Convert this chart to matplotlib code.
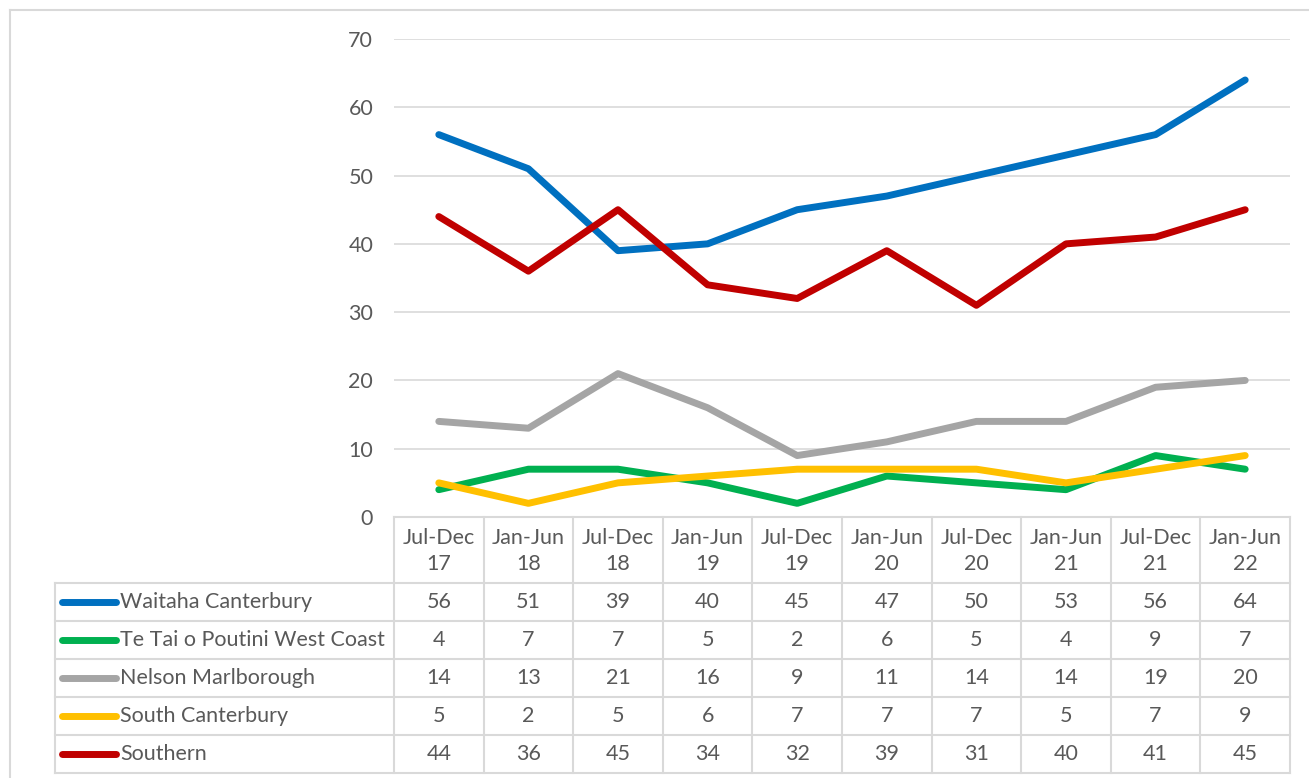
import matplotlib.pyplot as plt
import matplotlib.transforms as mtransforms
from matplotlib.lines import Line2D

periods = ["Jul-Dec\n17", "Jan-Jun\n18", "Jul-Dec\n18", "Jan-Jun\n19", "Jul-Dec\n19",
           "Jan-Jun\n20", "Jul-Dec\n20", "Jan-Jun\n21", "Jul-Dec\n21", "Jan-Jun\n22"]
names = ["Waitaha Canterbury", "Te Tai o Poutini West Coast", "Nelson Marlborough",
         "South Canterbury", "Southern"]
waitaha = [56, 51, 39, 40, 45, 47, 50, 53, 56, 64]
west_coast = [4, 7, 7, 5, 2, 6, 5, 4, 9, 7]
nelson = [14, 13, 21, 16, 9, 11, 14, 14, 19, 20]
south_cant = [5, 2, 5, 6, 7, 7, 7, 5, 7, 9]
southern = [44, 36, 45, 34, 32, 39, 31, 40, 41, 45]
colors = ["#0070C0", "#00B050", "#A5A5A5", "#FFC000", "#C00000"]

series = [waitaha, west_coast, nelson, south_cant, southern]

plt.rcParams['font.family'] = ['Lato', 'DejaVu Sans']
txt = "#595959"
grid = "#D9D9D9"
fs = 15.5

W, H = 1309, 778
fig = plt.figure(figsize=(W / 100, H / 100), dpi=100)

def fy(py):
    return 1 - py / H

ax = fig.add_axes([394 / W, fy(517), (1290 - 394) / W, (517 - 39) / H])
x = list(range(len(periods)))
for vals, c in zip(series, colors):
    ax.plot(x, vals, color=c, lw=5, solid_capstyle='round', solid_joinstyle='round', zorder=3)

ax.set_xlim(-0.5, len(periods) - 0.5)
ax.set_ylim(0, 70)
ax.set_yticks(range(0, 71, 10))
ax.yaxis.grid(True, color=grid, lw=1.2)
ax.set_axisbelow(True)
ax.set_xticks([])
ax.tick_params(axis='y', length=0, labelsize=fs, labelcolor=txt, pad=15)
for s in ax.spines.values():
    s.set_visible(False)

# outer chart frame
fig.add_artist(Line2D([9.5 / W, 9.5 / W], [fy(10), 0], transform=fig.transFigure, color=grid, lw=1.5))
fig.add_artist(Line2D([9.5 / W, 1], [fy(10), fy(10)], transform=fig.transFigure, color=grid, lw=1.5))

# data table below the plot
tr = mtransforms.blended_transform_factory(ax.transData, fig.transFigure)
head_top, head_bot = 517, 583
row_h = 38
tab_left = 55 / W
n = len(periods)
bottom = head_bot + row_h * len(names)

lkw = dict(color=grid, lw=1.5, clip_on=False)
# vertical lines in data columns
for i in range(n + 1):
    fig.add_artist(Line2D([i - 0.5, i - 0.5], [fy(head_top), fy(bottom)], transform=tr, **lkw))
# header top
fig.add_artist(Line2D([-0.5, n - 0.5], [fy(head_top), fy(head_top)], transform=tr, **lkw))
# left edge of the label column
fig.add_artist(Line2D([tab_left, tab_left], [fy(head_bot), fy(bottom)], transform=fig.transFigure, **lkw))
# horizontal row lines
x_left_data = ax.transData.inverted().transform(fig.transFigure.transform((tab_left, 0)))[0]
for r in range(len(names) + 1):
    yy = fy(head_bot + r * row_h)
    fig.add_artist(Line2D([x_left_data, n - 0.5], [yy, yy], transform=tr, **lkw))

for i, p in enumerate(periods):
    fig.text(i, fy((head_top + head_bot) / 2 + 1), p, transform=tr, ha='center', va='center',
             fontsize=fs, color=txt, linespacing=1.4)

for r, (name, vals, c) in enumerate(zip(names, series, colors)):
    yc = fy(head_bot + r * row_h + row_h / 2)
    fig.add_artist(Line2D([62 / W, 116 / W], [yc, yc], transform=fig.transFigure,
                          color=c, lw=5, solid_capstyle='round'))
    fig.text(120 / W, yc, name, ha='left', va='center', fontsize=fs, color=txt)
    for i, v in enumerate(vals):
        fig.text(i, yc, str(v), transform=tr, ha='center', va='center', fontsize=fs, color=txt)

fig.savefig("out.png", dpi=100)
